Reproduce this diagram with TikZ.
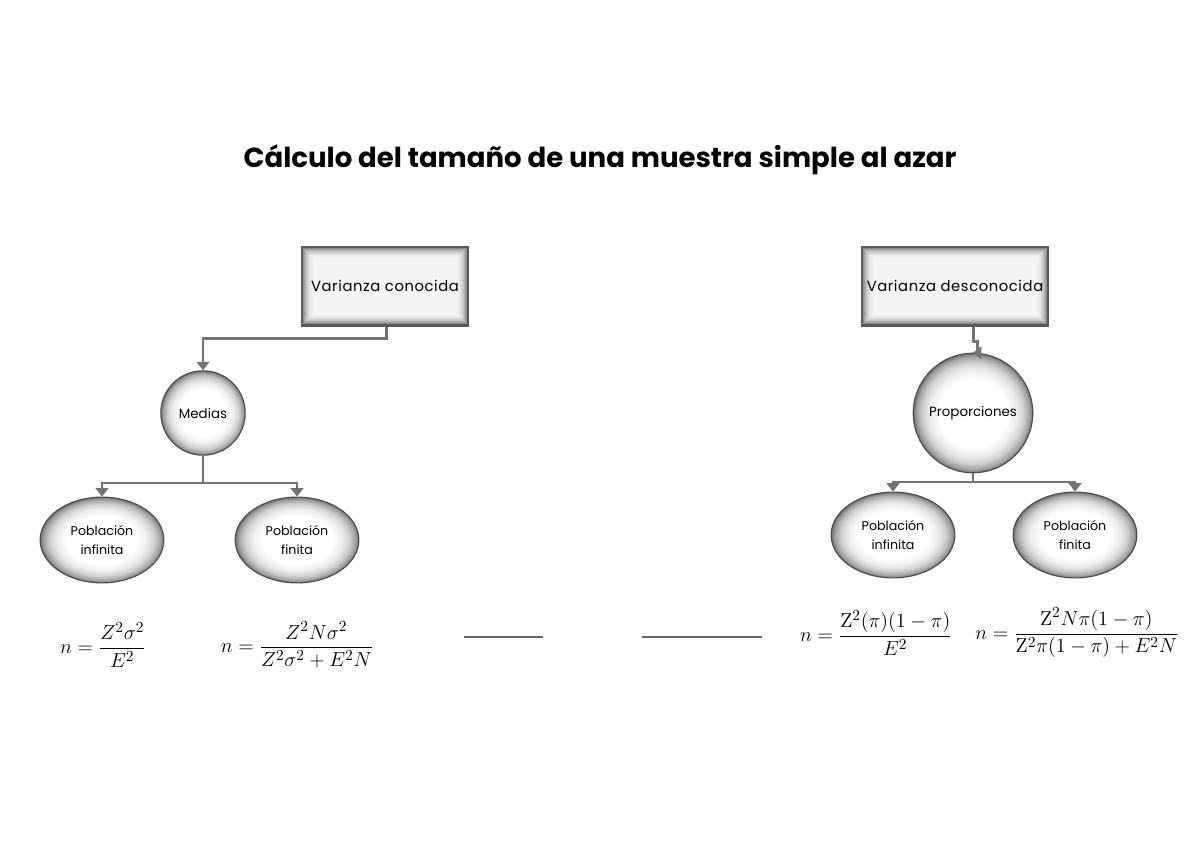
\documentclass[tikz,border=0pt]{standalone}
\usepackage{amsmath}
\usepackage[no-math]{fontspec}
\setmainfont{Poppins}
\usetikzlibrary{arrows.meta,shapes.geometric}

\pgfdeclareradialshading{glow}{\pgfpoint{0bp}{0bp}}{color(0bp)=(white); color(14bp)=(white); color(18bp)=(black!7); color(21bp)=(black!18); color(23.5bp)=(black!36); color(25bp)=(black!55); color(50bp)=(black!55)}

\tikzset{
  varbox/.style={draw=black!65, line width=1.6pt, minimum width=118pt, minimum height=56pt,
    font=\fontsize{10.5}{12}\selectfont\addfontfeatures{LetterSpace=4},
    path picture={
      \foreach \i/\c in {0/55,1/45,2/37,3/30,4/24,5/19,6/15,7/12,8/9,9/7,10/6,11/5,12/4}
        \fill[black!\c] ([shift={(\i*0.7pt,\i*0.7pt)}]path picture bounding box.south west)
          rectangle ([shift={(-\i*0.7pt,-\i*0.7pt)}]path picture bounding box.north east);}},
  ball/.style={circle, draw=black!70, line width=0.8pt, shading=glow, align=center,
    font=\fontsize{9.5}{13}\selectfont},
  egg/.style={ellipse, draw=black!70, line width=0.8pt, shading=glow, align=center,
    minimum width=88pt, minimum height=61pt, inner sep=0pt, font=\fontsize{9}{14}\selectfont},
  link/.style={draw=black!55, line width=2pt},
  arr/.style={link, -{Triangle[width=9pt,length=6pt]}},
  formula/.style={font=\fontsize{15}{18}\selectfont}
}

\begin{document}
\begin{tikzpicture}[x=0.025cm,y=-0.025cm]
  \useasboundingbox (0,0) rectangle (1200,848);

  \node (title) at (600,160) {\fontsize{19.6}{22}\selectfont\bfseries C\'alculo del tama\~no de una muestra simple al azar};

  % varianza conocida
  \node[varbox] (VC) at (385,286) {Varianza conocida};
  \node[ball, minimum size=60pt] (med) at (203,413) {Medias};
  \node[egg] (PI1) at (102,540) {Poblaci\'on\\infinita};
  \node[egg] (PF1) at (297,540) {Poblaci\'on\\finita};

  % varianza desconocida
  \node[varbox, minimum width=125pt] (VD) at (955,286) {Varianza desconocida};
  \node[ball, minimum size=85pt] (prop) at (973,413) {Proporciones};
  \node[egg] (PI2) at (893,535) {Poblaci\'on\\infinita};
  \node[egg] (PF2) at (1075,535) {Poblaci\'on\\finita};

  \coordinate (j1) at (203,483);
  \coordinate (j2) at (973,482);

  \draw[arr] ([xshift=1pt]VC.south) |- ++(0,12) -| (med.north);
  \draw[link] (med.south) -- (j1);
  \draw[arr] (j1) -| (PI1.north);
  \draw[arr] (j1) -| (PF1.north);

  \draw[arr] ([xshift=13pt]VD.south) -- ++(0,15) -- ++(4,0) |- (prop.north);
  \draw[link] (prop.south) -- (j2);
  \draw[arr] (j2) -| (PI2.north);
  \draw[arr] (j2) -| (PF2.north);

  % formulas
  \node[formula] (f1) at (103,645) {$n=\dfrac{Z^2\sigma^2}{E^2}$};
  \node[formula] (f2) at (297,645) {$n=\dfrac{Z^2N\sigma^2}{Z^2\sigma^2+E^2N}$};
  \node[formula] (f3) at (876,633) {$n=\dfrac{\mathrm{Z}^2(\pi)(1-\pi)}{E^2}$};
  \node[formula] (f4) at (1077,633) {$n=\dfrac{\mathrm{Z}^2N\pi(1-\pi)}{\mathrm{Z}^2\pi(1-\pi)+E^2N}$};

  \coordinate (b1) at (464,637); \coordinate (b2) at (543,637);
  \coordinate (b3) at (642,637); \coordinate (b4) at (762,637);
  \draw[draw=black!60, line width=1pt] (b1) -- (b2);
  \draw[draw=black!60, line width=1pt] (b3) -- (b4);
\end{tikzpicture}
\end{document}
